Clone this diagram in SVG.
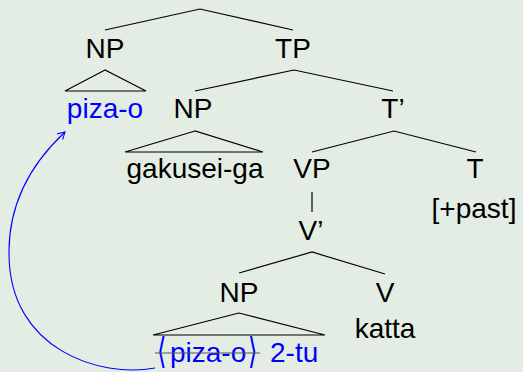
<svg xmlns="http://www.w3.org/2000/svg" width="523" height="372" viewBox="0 0 523 372">
<defs>
<style>
.t{font-family:"Liberation Sans","DejaVu Sans",sans-serif;font-size:28px;fill:#000;text-anchor:middle}
.b{fill:#0000ff}
.s{text-anchor:start}
.br{font-family:"DejaVu Sans",sans-serif;font-size:30px;fill:#0000ff}
.e{fill:none;stroke:#000;stroke-width:1.2}
</style>
<marker id="ah" markerWidth="10" markerHeight="10" refX="8" refY="5" orient="auto" markerUnits="userSpaceOnUse">
<path d="M1,1 L8,5 L1,9" fill="none" stroke="#0000ff" stroke-width="1.1"/>
</marker>
</defs>
<rect width="523" height="372" fill="#e4ede4"/>
<g id="connectors">
<path class="e" d="M105,30 L200,9 L293,30"/>
<path class="e" d="M105,70 L65,91 L146,91 Z"/>
<path class="e" d="M195,91 L294,70 L393,91"/>
<path class="e" d="M195,131 L125,152 L263,152 Z"/>
<path class="e" d="M312,152 L394,131 L476,152"/>
<path class="e" d="M312,192 L312,212"/>
<path class="e" d="M239,273 L312,252 L385,274"/>
<path class="e" d="M239,313 L153,335 L325,335 Z"/>
<path d="M155,368 C100,378 10,350 9,255 C8,200 35,160 65,132" fill="none" stroke="#0000ff" stroke-width="1.1" marker-end="url(#ah)"/>
</g>
<g id="np1"><text class="t" x="105" y="58">NP</text></g>
<g id="tp"><text class="t" x="293" y="58">TP</text></g>
<g id="piza-o"><text class="t b" x="105" y="118">piza-o</text></g>
<g id="np2"><text class="t" x="193" y="118">NP</text></g>
<g id="tbar"><text class="t" x="393" y="118">T’</text></g>
<g id="gakusei"><text class="t" x="195" y="178">gakusei-ga</text></g>
<g id="vp"><text class="t" x="312" y="178">VP</text></g>
<g id="t"><text class="t" x="475" y="178">T</text></g>
<g id="past"><text class="t" x="474" y="218">[+past]</text></g>
<g id="vbar"><text class="t" x="311" y="240">V’</text></g>
<g id="np3"><text class="t" x="239" y="302">NP</text></g>
<g id="v"><text class="t" x="385" y="302">V</text></g>
<g id="katta"><text class="t" x="385" y="338">katta</text></g>
<g id="trace">
<text class="br" transform="translate(157,363) scale(0.8,1.2)">⟨</text>
<text class="t b s" x="170" y="362">piza-o</text>
<text class="br" transform="translate(248,363) scale(0.8,1.2)">⟩</text>
<text class="t b s" x="270" y="362">2-tu</text>
<line x1="155" y1="353" x2="260" y2="353" stroke="#555" stroke-width="1.2"/>
</g>
</svg>
